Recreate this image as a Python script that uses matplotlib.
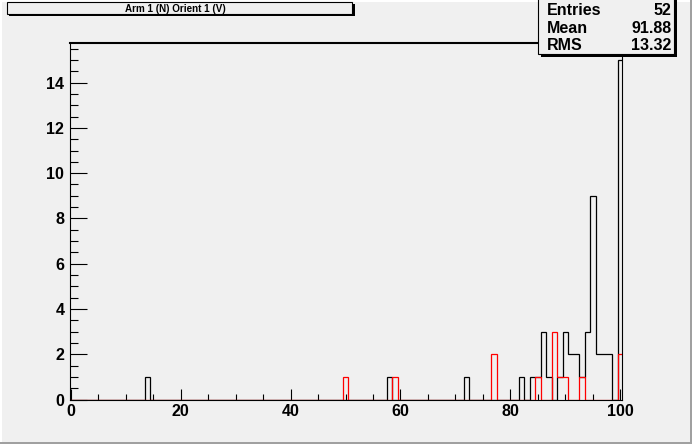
import numpy as np
import matplotlib
matplotlib.use('Agg')
import matplotlib.pyplot as plt
from matplotlib.patches import Rectangle
from matplotlib.ticker import MultipleLocator

# histogram content (bin centre -> entries), bins are 1 wide centred on integers
black_bins = [14, 58, 72, 82, 84, 85, 86, 87, 89, 90, 91, 92, 93, 94, 95, 96, 97, 98, 100]
black_counts = [1, 1, 1, 1, 1, 1, 3, 1, 1, 3, 2, 2, 1, 3, 9, 2, 2, 2, 15]
red_bins = [50, 59, 77, 85, 88, 89, 90, 93, 100]
red_counts = [1, 1, 2, 1, 3, 1, 1, 1, 2]

title = 'Arm 1 (N) Orient 1 (V)'
stat_names = ['Entries', 'Mean', 'RMS']
stat_values = ['52', '91.88', '13.32']

W, H = 692, 444
bg = '#f0f0f0'
font = 'Liberation Sans'

def fx(px):
    return px / W

def fy(py):
    return 1 - py / H

fig = plt.figure(figsize=(W / 100, H / 100), dpi=100, facecolor=bg)

# frame: x 69.7..622.3 px, y 43..399.5 px
ax = fig.add_axes([fx(69.7), fy(399.5), fx(622.3) - fx(69.7), fy(43) - fy(399.5)])
ax.set_facecolor(bg)

edges = np.arange(-0.5, 101.5, 1.0)
ax.hist(black_bins, bins=edges, weights=black_counts, histtype='step', color='black', lw=0.9)
ax.hist(red_bins, bins=edges, weights=red_counts, histtype='step', color='red', lw=0.9)

ax.set_xlim(-0.18, 100.36)
ax.set_ylim(0, 15.75)

ax.xaxis.set_major_locator(MultipleLocator(20))
ax.xaxis.set_minor_locator(MultipleLocator(5))
ax.yaxis.set_major_locator(MultipleLocator(2))
ax.yaxis.set_minor_locator(MultipleLocator(0.5))
ax.tick_params(axis='x', which='major', direction='in', length=7.9, width=0.8, pad=3.4)
ax.tick_params(axis='x', which='minor', direction='in', length=4, width=0.8)
ax.tick_params(axis='y', which='major', direction='in', length=12, width=0.8, pad=3.9)
ax.tick_params(axis='y', which='minor', direction='in', length=6, width=0.8)
for lab in ax.get_xticklabels() + ax.get_yticklabels():
    lab.set_fontfamily(font)
    lab.set_fontweight('bold')
    lab.set_fontsize(11.6)

for s in ['left', 'right', 'bottom']:
    ax.spines[s].set_linewidth(0.8)
ax.spines['top'].set_linewidth(1.5)

# canvas bevel border
fig.add_artist(Rectangle((0, 0), fx(2), 1, transform=fig.transFigure, color='white', lw=0))
fig.add_artist(Rectangle((0, fy(2)), 1, fy(0) - fy(2), transform=fig.transFigure, color='white', lw=0))
fig.add_artist(Rectangle((fx(690), 0), fx(2), 1, transform=fig.transFigure, color='#a0a0a0', lw=0))
fig.add_artist(Rectangle((0, 0), 1, 1 - fy(2), transform=fig.transFigure, color='#a0a0a0', lw=0))

def pave(x0, y0, x1, y1, shadow=2.0):
    # shadow first, then the box
    fig.add_artist(Rectangle((fx(x0 + shadow), fy(y1 + shadow)), fx(x1 - x0), fy(y0) - fy(y1),
                             transform=fig.transFigure, facecolor='black', edgecolor='none', zorder=4))
    fig.add_artist(Rectangle((fx(x0), fy(y1)), fx(x1 - x0), fy(y0) - fy(y1),
                             transform=fig.transFigure, facecolor=bg, edgecolor='black', lw=0.8, zorder=5))

# title box
pave(6.5, 2.5, 352.5, 14.5, shadow=2.0)
fig.text(fx(175), fy(9), title, ha='center', va='center', fontsize=7.1,
         fontfamily=font, fontweight='bold', zorder=6)

# stats box
pave(538.3, -2, 674.3, 54.3, shadow=2.5)
for i, (name, val) in enumerate(zip(stat_names, stat_values)):
    yy = 10.5 + i * 17.7
    fig.text(fx(546.5), fy(yy), name, ha='left', va='center', fontsize=11.5,
             fontfamily=font, fontweight='bold', zorder=6)
    fig.text(fx(671.5), fy(yy), val, ha='right', va='center', fontsize=11.5,
             fontfamily=font, fontweight='bold', zorder=6)

fig.savefig('out.png', dpi=100, facecolor=bg)
